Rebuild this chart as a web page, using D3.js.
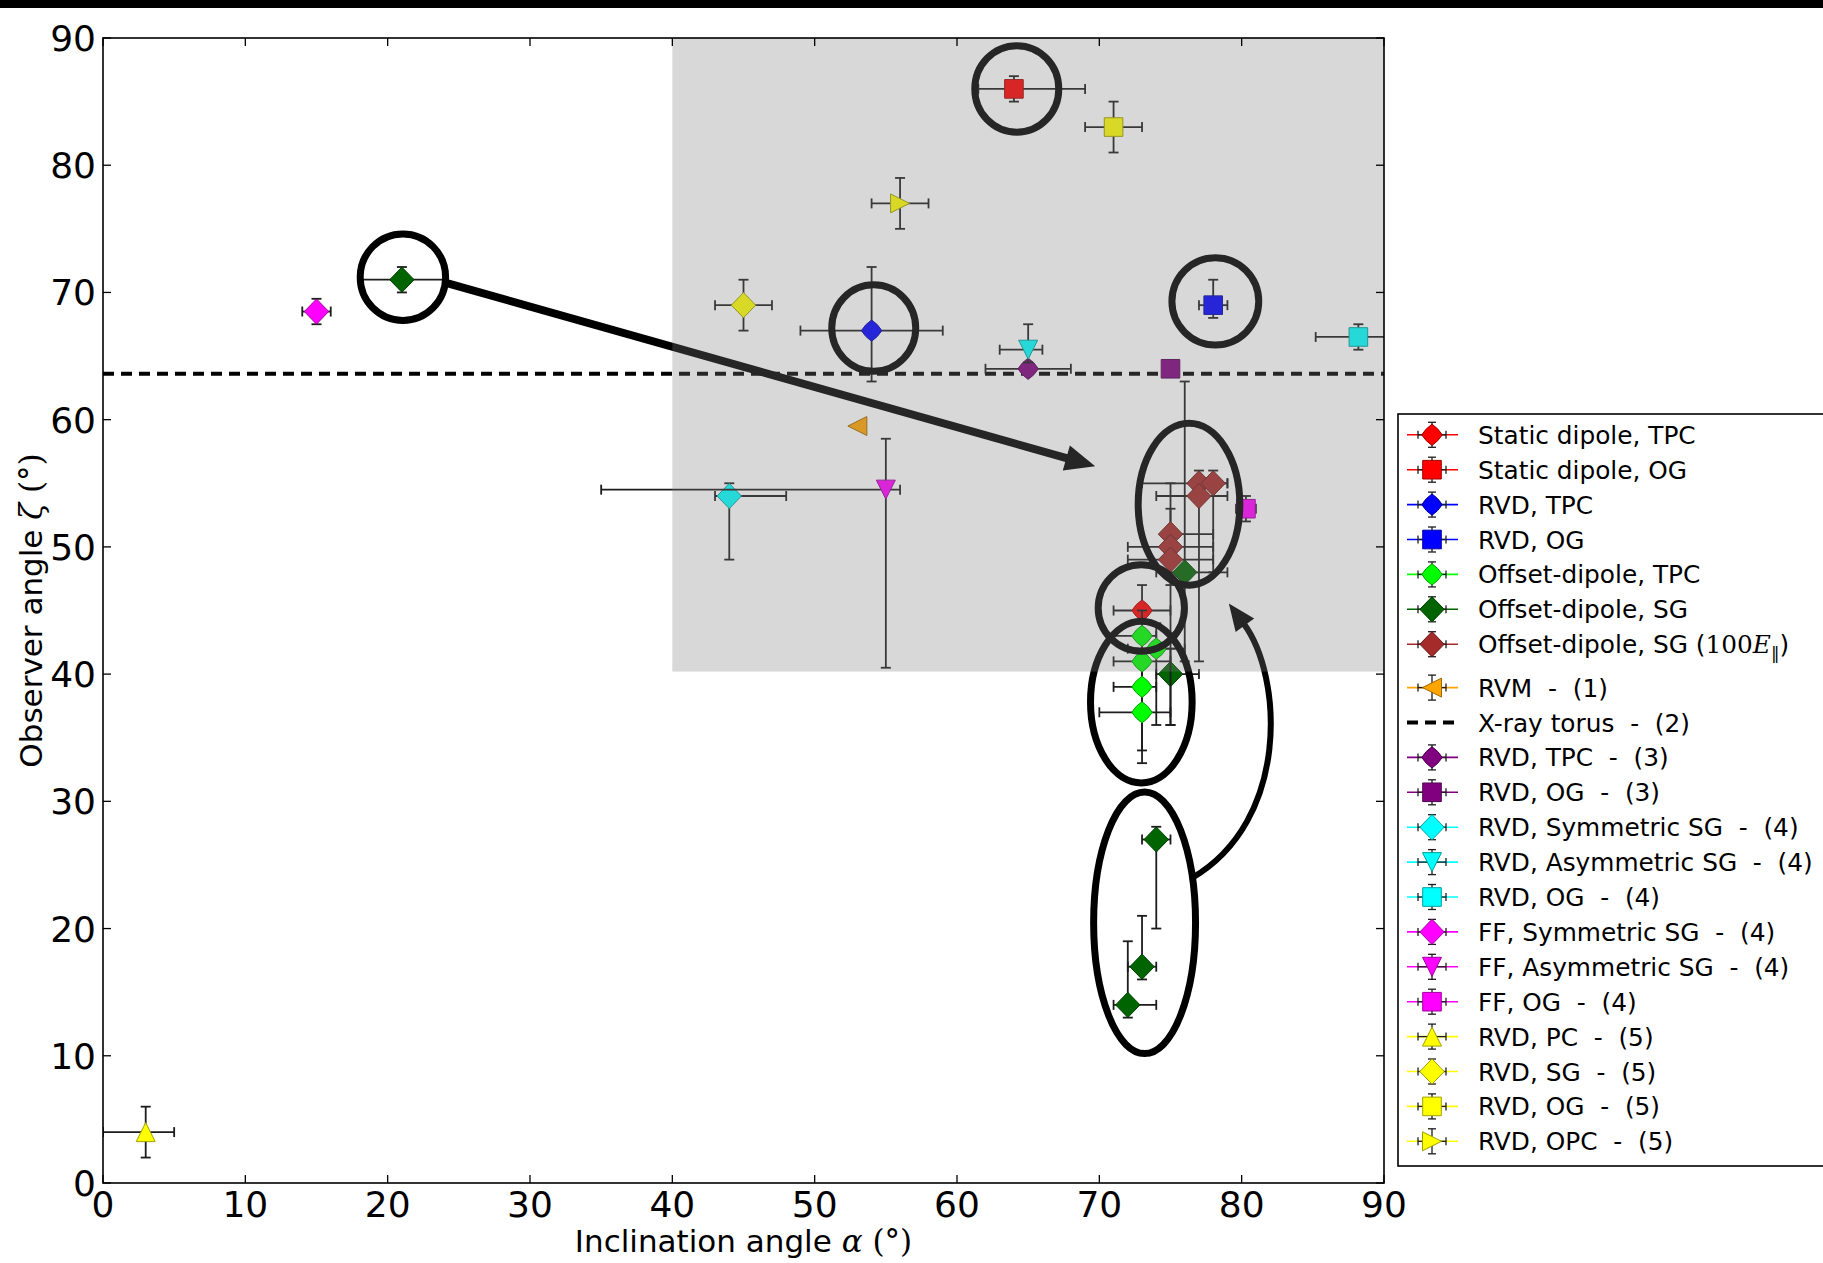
<!DOCTYPE html>
<html>
<head>
<meta charset="utf-8">
<script src="https://cdn.jsdelivr.net/npm/d3@7"></script>
<style>
  html, body { margin: 0; padding: 0; background: #fff; }
  svg { display: block; }
  text { white-space: pre; }
</style>
</head>
<body>
<svg id="chart" width="1823" height="1263"></svg>
<script>
// ---------------- data ----------------
const xTicks = [0, 10, 20, 30, 40, 50, 60, 70, 80, 90];
const yTicks = [0, 10, 20, 30, 40, 50, 60, 70, 80, 90];

const seriesNames = [
  "Static dipole, TPC", "Static dipole, OG", "RVD, TPC", "RVD, OG",
  "Offset-dipole, TPC", "Offset-dipole, SG", "Offset-dipole, SG (100E\u2016)",
  "RVM  -  (1)", "X-ray torus  -  (2)", "RVD, TPC  -  (3)", "RVD, OG  -  (3)",
  "RVD, Symmetric SG  -  (4)", "RVD, Asymmetric SG  -  (4)", "RVD, OG  -  (4)",
  "FF, Symmetric SG  -  (4)", "FF, Asymmetric SG  -  (4)", "FF, OG  -  (4)",
  "RVD, PC  -  (5)", "RVD, SG  -  (5)", "RVD, OG  -  (5)", "RVD, OPC  -  (5)"
];

// each point: [alpha, zeta, alphaMinus, alphaPlus, zetaMinus, zetaPlus]
const seriesPoints = [
  [[73, 45, 2, 2, 2, 2]],
  [[64, 86, 2.5, 5, 1, 1]],
  [[54, 67, 5, 5, 4, 5]],
  [[78, 69, 1, 1, 1, 2]],
  [[73, 43, 2, 1, 2, 2], [74, 42, 2, 2, 6, 2], [73, 41, 2, 2, 2, 2], [73, 39, 2, 1, 5, 4], [73, 37, 3, 2, 4, 4]],
  [[21, 71, 3, 3, 1, 1], [76, 48, 2, 3, 7, 15], [75, 40, 1, 2, 4, 2], [74, 27, 1, 1, 7, 1], [73, 17, 1, 1, 1, 4], [72, 14, 1, 2, 1, 5]],
  [[77, 55, 4, 2, 1, 1], [78, 55, 1, 1, 7, 1], [77, 54, 3, 2, 13, 1], [75, 51, 0, 3, 2, 2], [75, 50, 3, 3, 14, 5], [75, 49, 3, 3, 2, 2]],
  [[53, 59.5, 0, 0, 0, 0]],
  [],
  [[65, 64, 3, 3, 0, 0]],
  [[75, 64, 0, 0, 0, 0]],
  [[44, 54, 1, 4, 5, 1]],
  [[65, 65.5, 2, 1, 1, 2]],
  [[88.2, 66.5, 3, 3, 1, 1]],
  [[15, 68.5, 1, 1, 1, 1]],
  [[55, 54.5, 20, 1, 14, 4]],
  [[80.3, 53, 0.7, 0.7, 1, 1]],
  [[3, 4, 3, 2, 2, 2]],
  [[45, 69, 2, 2, 2, 2]],
  [[71, 83, 2, 2, 2, 2]],
  [[56, 77, 2, 2, 2, 2]]
];

const xrayTorusZeta = 63.6;
const shadedAlpha = [40, 90];
const shadedZeta = [40.2, 90];

// highlighted groups: [alpha, zeta, alphaRadius, zetaRadius]
const highlightEllipses = [
  [64.2, 86.0, 2.95, 3.4],
  [54.15, 67.2, 2.95, 3.4],
  [78.15, 69.3, 3.05, 3.43],
  [21.07, 71.2, 3.0, 3.4],
  [76.3, 53.35, 3.57, 6.36],
  [72.95, 45.2, 3.03, 3.4],
  [72.95, 37.8, 3.57, 6.35],
  [73.18, 20.45, 3.58, 10.28]
];
// straight arrow: from -> tip
const arrowStraight = [[23.98, 70.79], [69.71, 56.34]];
// curved arrow: start, control 1, control 2, tip
const arrowCurved = [[76.52, 23.98], [83.4, 28.5], [82.9, 39.8], [79.1, 45.55]];

// ---------------- drawing ----------------
const seriesColor = ["#ff0000", "#ff0000", "#0000ff", "#0000ff", "#00ff00", "#006400", "#a52a2a",
  "#ffa500", "#000000", "#800080", "#800080", "#00ffff", "#00ffff", "#00ffff",
  "#ff00ff", "#ff00ff", "#ff00ff", "#ffff00", "#ffff00", "#ffff00", "#ffff00"];
const seriesMarker = ["dsmall", "square", "dsmall", "square", "dsmall", "dlarge", "dlarge",
  "tleft", "dash", "dsmall", "square", "dlarge", "tdown", "square",
  "dlarge", "tdown", "square", "tup", "dlarge", "square", "tright"];

const svg = d3.select("#chart");
const W = 1823, H = 1263;
const plot = { left: 103, right: 1384, top: 38, bottom: 1183 };

const x = d3.scaleLinear().domain([0, 90]).range([plot.left, plot.right]);
const y = d3.scaleLinear().domain([0, 90]).range([plot.bottom, plot.top]);

const SANS = "'DejaVu Sans', 'Bitstream Vera Sans', sans-serif";
const SERIF = "'DejaVu Serif', serif";

function markerPath(kind) {
  const p = d3.path();
  if (kind === "dsmall") {
    // slightly rounded diamond
    const w = 10.2, h = 10.6, k = 0.12;
    p.moveTo(0, -h);
    p.quadraticCurveTo(w * (0.5 + k), -h * (0.5 + k), w, 0);
    p.quadraticCurveTo(w * (0.5 + k), h * (0.5 + k), 0, h);
    p.quadraticCurveTo(-w * (0.5 + k), h * (0.5 + k), -w, 0);
    p.quadraticCurveTo(-w * (0.5 + k), -h * (0.5 + k), 0, -h);
    p.closePath();
  } else if (kind === "dlarge") {
    const w = 12.2, h = 12.6;
    p.moveTo(0, -h); p.lineTo(w, 0); p.lineTo(0, h); p.lineTo(-w, 0); p.closePath();
  } else if (kind === "square") {
    const s = 9.3;
    p.rect(-s, -s, 2 * s, 2 * s);
  } else {
    const s = 9.5;
    if (kind === "tup") { p.moveTo(0, -s); p.lineTo(s, s); p.lineTo(-s, s); }
    if (kind === "tdown") { p.moveTo(0, s); p.lineTo(s, -s); p.lineTo(-s, -s); }
    if (kind === "tleft") { p.moveTo(-s, 0); p.lineTo(s, -s); p.lineTo(s, s); }
    if (kind === "tright") { p.moveTo(s, 0); p.lineTo(-s, -s); p.lineTo(-s, s); }
    p.closePath();
  }
  return p.toString();
}

svg.append("rect").attr("width", W).attr("height", H).attr("fill", "#fff");
svg.append("rect").attr("width", W).attr("height", 8).attr("fill", "#000");

const defs = svg.append("defs");
defs.append("clipPath").attr("id", "plotClip")
  .append("rect")
  .attr("x", plot.left).attr("y", plot.top)
  .attr("width", plot.right - plot.left).attr("height", plot.bottom - plot.top);

const inner = svg.append("g").attr("clip-path", "url(#plotClip)");

// X-ray torus line
inner.append("line")
  .attr("x1", x(0)).attr("x2", x(90))
  .attr("y1", y(xrayTorusZeta)).attr("y2", y(xrayTorusZeta))
  .attr("stroke", "#000").attr("stroke-width", 4)
  .attr("stroke-dasharray", "11,7");

// error bars + markers, series by series
const CAP = 5;
const ERR_COLOR = "#1c1c1c";
seriesPoints.forEach((pts, si) => {
  const g = inner.append("g");
  pts.forEach(d => {
    const [a, z, aLo, aHi, zLo, zHi] = d;
    const eg = g.append("g").attr("stroke", ERR_COLOR).attr("stroke-width", 1.8).attr("fill", "none");
    if (aLo > 0 || aHi > 0) {
      eg.append("line").attr("x1", x(a - aLo)).attr("x2", x(a + aHi)).attr("y1", y(z)).attr("y2", y(z));
      [a - aLo, a + aHi].forEach(v => eg.append("line")
        .attr("x1", x(v)).attr("x2", x(v)).attr("y1", y(z) - CAP).attr("y2", y(z) + CAP));
    }
    if (zLo > 0 || zHi > 0) {
      eg.append("line").attr("x1", x(a)).attr("x2", x(a)).attr("y1", y(z - zLo)).attr("y2", y(z + zHi));
      [z - zLo, z + zHi].forEach(v => eg.append("line")
        .attr("x1", x(a) - CAP).attr("x2", x(a) + CAP).attr("y1", y(v)).attr("y2", y(v)));
    }
  });
  pts.forEach(d => {
    g.append("path")
      .attr("d", markerPath(seriesMarker[si]))
      .attr("transform", `translate(${x(d[0])},${y(d[1])})`)
      .attr("fill", seriesColor[si])
      .attr("stroke", d3.color(seriesColor[si]).darker(1.3))
      .attr("stroke-width", 1)
      .attr("stroke-linejoin", "round");
  });
});

// highlight ellipses
inner.append("g").selectAll("ellipse").data(highlightEllipses).join("ellipse")
  .attr("cx", d => x(d[0])).attr("cy", d => y(d[1]))
  .attr("rx", d => x(d[0] + d[2]) - x(d[0]))
  .attr("ry", d => y(d[1]) - y(d[1] + d[3]))
  .attr("fill", "none").attr("stroke", "#000").attr("stroke-width", 7);

function arrowHead(g, tip, dir, len, width) {
  const bx = tip[0] - dir[0] * len, by = tip[1] - dir[1] * len;
  const nx = -dir[1], ny = dir[0];
  const p = d3.path();
  p.moveTo(tip[0], tip[1]);
  p.lineTo(bx + nx * width / 2, by + ny * width / 2);
  p.lineTo(bx - nx * width / 2, by - ny * width / 2);
  p.closePath();
  g.append("path").attr("d", p.toString()).attr("fill", "#000");
  return [bx + dir[0] * 2, by + dir[1] * 2];
}

// straight arrow
{
  const g = inner.append("g");
  const s = [x(arrowStraight[0][0]), y(arrowStraight[0][1])];
  const t = [x(arrowStraight[1][0]), y(arrowStraight[1][1])];
  const L = Math.hypot(t[0] - s[0], t[1] - s[1]);
  const dir = [(t[0] - s[0]) / L, (t[1] - s[1]) / L];
  const base = arrowHead(g, t, dir, 30, 26);
  g.insert("line", ":first-child")
    .attr("x1", s[0]).attr("y1", s[1]).attr("x2", base[0]).attr("y2", base[1])
    .attr("stroke", "#000").attr("stroke-width", 8);
}
// curved arrow
{
  const g = inner.append("g");
  const P = arrowCurved.map(d => [x(d[0]), y(d[1])]);
  const tip = P[3];
  const L = Math.hypot(tip[0] - P[2][0], tip[1] - P[2][1]);
  const dir = [(tip[0] - P[2][0]) / L, (tip[1] - P[2][1]) / L];
  const base = arrowHead(g, tip, dir, 27, 23);
  const p = d3.path();
  p.moveTo(P[0][0], P[0][1]);
  p.bezierCurveTo(P[1][0], P[1][1], P[2][0], P[2][1], base[0], base[1]);
  g.insert("path", ":first-child").attr("d", p.toString())
    .attr("fill", "none").attr("stroke", "#000").attr("stroke-width", 6);
}

// shaded region (translucent layer over the marks)
svg.append("rect")
  .attr("x", x(shadedAlpha[0])).attr("y", y(shadedZeta[1]))
  .attr("width", x(shadedAlpha[1]) - x(shadedAlpha[0]))
  .attr("height", y(shadedZeta[0]) - y(shadedZeta[1]))
  .attr("fill", "#7f7f7f").attr("fill-opacity", 0.3);

// frame and inward ticks on all four sides
const frame = svg.append("g").attr("stroke", "#000").attr("fill", "none");
frame.append("rect")
  .attr("x", plot.left).attr("y", plot.top)
  .attr("width", plot.right - plot.left).attr("height", plot.bottom - plot.top)
  .attr("stroke-width", 1.6);
const TICK = 8;
xTicks.forEach(v => {
  frame.append("line").attr("x1", x(v)).attr("x2", x(v)).attr("y1", plot.bottom).attr("y2", plot.bottom - TICK).attr("stroke-width", 1.3);
  frame.append("line").attr("x1", x(v)).attr("x2", x(v)).attr("y1", plot.top).attr("y2", plot.top + TICK).attr("stroke-width", 1.3);
});
yTicks.forEach(v => {
  frame.append("line").attr("y1", y(v)).attr("y2", y(v)).attr("x1", plot.left).attr("x2", plot.left + TICK).attr("stroke-width", 1.3);
  frame.append("line").attr("y1", y(v)).attr("y2", y(v)).attr("x1", plot.right).attr("x2", plot.right - TICK).attr("stroke-width", 1.3);
});

// tick labels
const TICK_FS = 36;
svg.append("g").selectAll("text").data(xTicks).join("text")
  .attr("x", d => x(d)).attr("y", 1217)
  .attr("text-anchor", "middle")
  .attr("font-family", SANS).attr("font-size", TICK_FS).attr("fill", "#000")
  .text(d => d);
svg.append("g").selectAll("text").data(yTicks).join("text")
  .attr("x", 96).attr("y", d => y(d) + 13)
  .attr("text-anchor", "end")
  .attr("font-family", SANS).attr("font-size", TICK_FS).attr("fill", "#000")
  .text(d => d);

// axis titles
const LABEL_FS = 31;
function axisTitle(t, word, sym) {
  t.attr("font-family", SANS).attr("font-size", LABEL_FS).attr("fill", "#000").attr("text-anchor", "middle");
  t.append("tspan").text(word + " ");
  t.append("tspan").attr("font-family", SERIF).attr("font-style", "italic").text(sym);
  t.append("tspan").text(" ");
  t.append("tspan").attr("font-family", SERIF).text("(\u00b0)");
}
axisTitle(svg.append("text").attr("x", (plot.left + plot.right) / 2).attr("y", 1252),
  "Inclination angle", "\u03b1");
axisTitle(svg.append("text")
  .attr("transform", `translate(42,${(plot.top + plot.bottom) / 2}) rotate(-90)`),
  "Observer angle", "\u03b6");

// legend
const leg = svg.append("g");
leg.append("rect").attr("x", 1398).attr("y", 414).attr("width", 460).attr("height", 752)
  .attr("fill", "#fff").attr("stroke", "#000").attr("stroke-width", 1.6);
const rowY = i => 434.8 + i * 34.9 + (i >= 7 ? 8.5 : 0);
const hx = 1432;
seriesNames.forEach((name, i) => {
  const cy = rowY(i);
  const g = leg.append("g");
  if (seriesMarker[i] === "dash") {
    g.append("line").attr("x1", 1407).attr("x2", 1458).attr("y1", cy).attr("y2", cy)
      .attr("stroke", "#000").attr("stroke-width", 4).attr("stroke-dasharray", "11,7");
  } else {
    g.append("line").attr("x1", 1407).attr("x2", 1458).attr("y1", cy).attr("y2", cy)
      .attr("stroke", seriesColor[i]).attr("stroke-width", 1.6);
    const e = g.append("g").attr("stroke", ERR_COLOR).attr("stroke-width", 1.3);
    e.append("line").attr("x1", hx - 14).attr("x2", hx + 14).attr("y1", cy).attr("y2", cy);
    [hx - 14, hx + 14].forEach(v => e.append("line").attr("x1", v).attr("x2", v).attr("y1", cy - 4).attr("y2", cy + 4));
    e.append("line").attr("x1", hx).attr("x2", hx).attr("y1", cy - 12.5).attr("y2", cy + 12.5);
    [cy - 12.5, cy + 12.5].forEach(v => e.append("line").attr("x1", hx - 4).attr("x2", hx + 4).attr("y1", v).attr("y2", v));
    g.append("path").attr("d", markerPath(seriesMarker[i]))
      .attr("transform", `translate(${hx},${cy})`)
      .attr("fill", seriesColor[i])
      .attr("stroke", d3.color(seriesColor[i]).darker(1.3)).attr("stroke-width", 1)
      .attr("stroke-linejoin", "round");
  }
  const t = g.append("text").attr("x", 1478).attr("y", cy + 9)
    .attr("font-family", SANS).attr("font-size", 24.8).attr("fill", "#000");
  if (name.includes("100E")) {
    const [head] = name.split("100E");
    t.append("tspan").text(head);
    t.append("tspan").attr("font-family", SERIF).text("100");
    t.append("tspan").attr("font-family", SERIF).attr("font-style", "italic").text("E");
    t.append("tspan").attr("font-family", SERIF).attr("font-size", 17).attr("dy", 6).text("\u2016");
    t.append("tspan").attr("dy", -6).text(")");
  } else {
    t.text(name);
  }
});
</script>
</body>
</html>
